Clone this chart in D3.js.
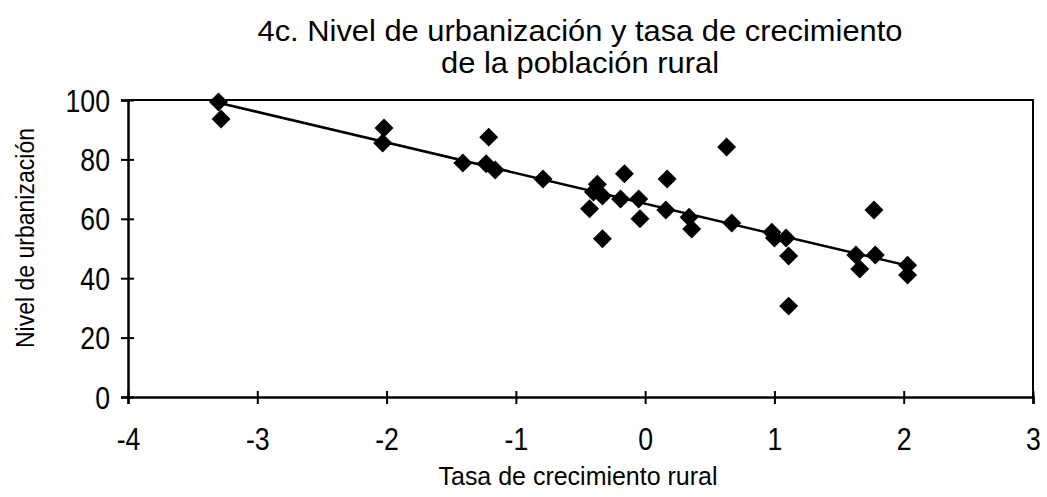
<!DOCTYPE html>
<html>
<head>
<meta charset="utf-8">
<style>
  body { margin: 0; background: #fff; }
  svg text { font-family: 'Liberation Sans', Arial, sans-serif; fill: #000; }
</style>
<script src="https://cdn.jsdelivr.net/npm/d3@7"></script>
</head>
<body>
<script>
// tasa de crecimiento rural (x) vs nivel de urbanización (y)
const rural = [-3.30, -3.28, -2.02, -2.03, -1.41, -1.21, -1.23, -1.16, -0.79, -0.37,
               -0.40, -0.33, -0.43, -0.33, -0.16, -0.19, -0.05, -0.04, 0.17, 0.16,
               0.34, 0.36, 0.63, 0.67, 0.98, 1.00, 1.09, 1.11, 1.11, 1.63,
               1.66, 1.78, 1.77, 2.03, 2.03];
const urban = [99.3, 93.6, 90.6, 85.5, 78.8, 87.5, 78.5, 76.4, 73.4, 71.6,
               69.0, 67.7, 63.4, 53.3, 75.2, 66.7, 66.7, 60.0, 73.4, 63.0,
               60.5, 56.6, 84.2, 58.6, 55.5, 53.5, 53.5, 47.5, 30.6, 47.8,
               43.1, 47.8, 63.0, 44.4, 41.1];
const xTicks = [-4, -3, -2, -1, 0, 1, 2, 3];
const yTicks = [0, 20, 40, 60, 80, 100];
const titleLines = ['4c. Nivel de urbanización y tasa de crecimiento', 'de la población rural'];

const width = 1047, height = 497;
const margin = {top: 100, right: 14, bottom: 100, left: 128};
const squeeze = 0.86; // the original uses a narrow face

const svg = d3.select('body').append('svg')
    .attr('width', width)
    .attr('height', height);

const x = d3.scaleLinear().domain([-4, 3]).range([margin.left, width - margin.right]);
const y = d3.scaleLinear().domain([0, 100]).range([height - margin.bottom, margin.top]);

// box (top and right sides)
svg.append('path')
    .attr('d', `M${x(-4)},${y(100)}H${x(3)}V${y(0)}`)
    .attr('fill', 'none')
    .attr('stroke', '#000')
    .attr('stroke-width', 2);

// axes, ticks cross the line
const xAxis = svg.append('g')
    .attr('transform', `translate(0,${y(0)})`)
    .call(d3.axisBottom(x).tickValues(xTicks).tickSize(7).tickFormat(d => String(d)));
const yAxis = svg.append('g')
    .attr('transform', `translate(${x(-4)},0)`)
    .call(d3.axisLeft(y).tickValues(yTicks).tickSize(7).tickFormat(d => String(d)));

[xAxis, yAxis].forEach(g => {
    g.select('.domain').attr('stroke-width', 2.5);
    g.selectAll('.tick line').attr('stroke-width', 2);
    g.selectAll('.tick text')
        .attr('font-size', 31)
        .attr('font-family', null)
        .attr('transform', `scale(${squeeze},1)`);
});
xAxis.selectAll('.tick line').attr('y1', -6);
xAxis.selectAll('.tick text').attr('y', 53).attr('dy', 0);
yAxis.selectAll('.tick line').attr('x1', 6);
yAxis.selectAll('.tick text').attr('x', -18 / squeeze).attr('dy', '0.36em');

// least-squares trend line
const mx = d3.mean(rural), my = d3.mean(urban);
const slope = d3.sum(rural, (v, i) => (v - mx) * (urban[i] - my)) / d3.sum(rural, v => (v - mx) ** 2);
const icpt = my - slope * mx;
const [x0, x1] = d3.extent(rural);
svg.append('line')
    .attr('x1', x(x0)).attr('y1', y(icpt + slope * x0))
    .attr('x2', x(x1)).attr('y2', y(icpt + slope * x1))
    .attr('stroke', '#000')
    .attr('stroke-width', 2.5);

// diamond markers
const diamond = d3.symbol().type(d3.symbolSquare).size(180);
svg.append('g').selectAll('path')
    .data(rural)
    .join('path')
    .attr('d', diamond)
    .attr('transform', (v, i) => `translate(${x(v)},${y(urban[i])}) rotate(45)`)
    .attr('fill', '#000');

// titles
const titleWidths = [645, 278];
svg.append('g').selectAll('text')
    .data(titleLines)
    .join('text')
    .attr('x', 580)
    .attr('y', (d, i) => 41 + i * 32)
    .attr('text-anchor', 'middle')
    .attr('font-size', 30)
    .attr('textLength', (d, i) => titleWidths[i])
    .attr('lengthAdjust', 'spacingAndGlyphs')
    .text(d => d);

svg.append('text')
    .attr('x', 578)
    .attr('y', 485)
    .attr('text-anchor', 'middle')
    .attr('font-size', 26)
    .attr('textLength', 279)
    .attr('lengthAdjust', 'spacingAndGlyphs')
    .text('Tasa de crecimiento rural');

svg.append('text')
    .attr('transform', 'translate(34,238) rotate(-90)')
    .attr('text-anchor', 'middle')
    .attr('font-size', 25)
    .attr('textLength', 220)
    .attr('lengthAdjust', 'spacingAndGlyphs')
    .text('Nivel de urbanización');
</script>
</body>
</html>
